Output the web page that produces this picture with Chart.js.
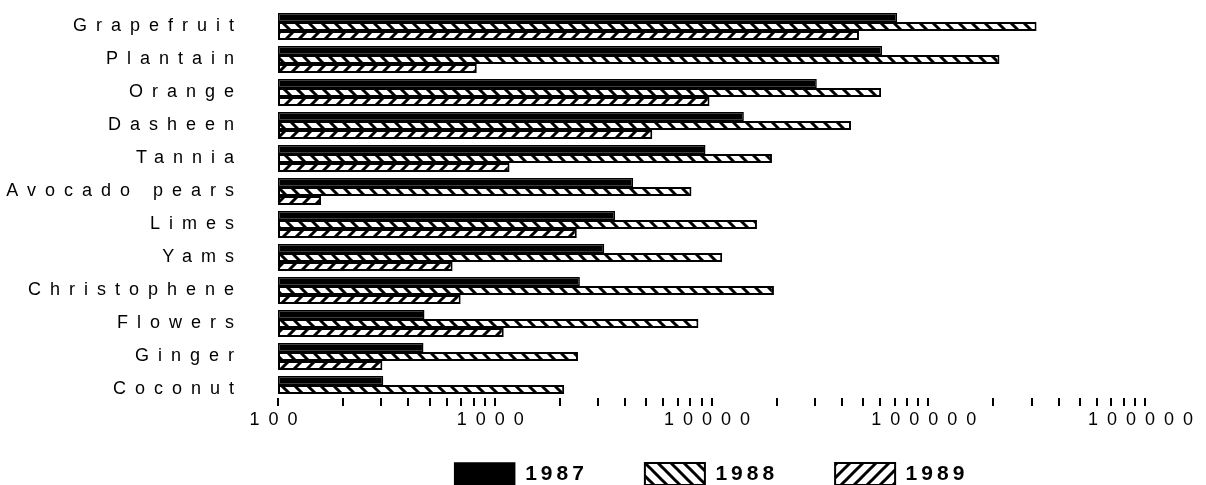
<!DOCTYPE html>
<html>
<head>
<meta charset="utf-8">
<script src="https://cdn.jsdelivr.net/npm/chart.js@4.4.1/dist/chart.umd.min.js"></script>
<style>
	html, body { margin: 0; padding: 0; background: #fff; }
	canvas { display: block; }
</style>
</head>
<body>
<canvas id="exportChart" width="1206" height="485"></canvas>
<script>
var categories = ['Grapefruit', 'Plantain', 'Orange', 'Dasheen', 'Tannia', 'Avocado pears', 'Limes', 'Yams', 'Christophene', 'Flowers', 'Ginger', 'Coconut'];
var values1987 = [71800, 61200, 30600, 14100, 9380, 4350, 3590, 3200, 2470, 474, 469, 306];
var values1988 = [316000, 213000, 60600, 44000, 19000, 8080, 16200, 11200, 19400, 8700, 2420, 2090];
var values1989 = [47900, 826, 9790, 5330, 1170, 158, 2390, 639, 696, 1100, 303, null];
var decadeValues = [100, 1000, 10000, 100000, 1000000];
var decadeLabels = ['100', '1000', '10000', '100000', '100000'];

// tick marks at 1..9 of every decade
var tickMarks = [];
for (var d = 0; d < decadeValues.length - 1; d++) {
	for (var m = 1; m < 10; m++) tickMarks.push(decadeValues[d] * m);
}
tickMarks.push(decadeValues[decadeValues.length - 1]);

// hatch fill, dir 'back' = \\\ , 'fwd' = ///
function hatch(dir) {
	var size = 13;
	var c = document.createElement('canvas');
	c.width = size;
	c.height = size;
	var g = c.getContext('2d');
	g.fillStyle = '#fff';
	g.fillRect(0, 0, size, size);
	g.strokeStyle = '#000';
	g.lineWidth = 3;
	g.beginPath();
	[-size, 0, size].forEach(function (k) {
		if (dir === 'back') {
			g.moveTo(k - 2, -2);
			g.lineTo(k + size + 2, size + 2);
		} else {
			g.moveTo(k + size + 2, -2);
			g.lineTo(k - 2, size + 2);
		}
	});
	g.stroke();
	return g.createPattern(c, 'repeat');
}

Chart.defaults.font.family = '"Liberation Sans", Arial, sans-serif';
Chart.defaults.color = '#000';

var spacing = {
	id: 'spacing',
	beforeLayout: function (chart) { chart.ctx.letterSpacing = '9px'; },
	beforeDraw: function (chart) { chart.ctx.letterSpacing = '9px'; },
};

var exportChart = new Chart(document.getElementById('exportChart'), {
	type: 'bar',
	data: {
		labels: categories,
		datasets: [
			{
				label: '1987',
				data: values1987,
				backgroundColor: '#000',
				borderColor: '#000',
				borderWidth: 1.5,
				borderSkipped: false,
			},
			{
				label: '1988',
				data: values1988,
				backgroundColor: hatch('back'),
				borderColor: '#000',
				borderWidth: 2,
				borderSkipped: false,
			},
			{
				label: '1989',
				data: values1989,
				backgroundColor: hatch('fwd'),
				borderColor: '#000',
				borderWidth: 2,
				borderSkipped: false,
			},
		],
	},
	options: {
		indexAxis: 'y',
		responsive: false,
		animation: false,
		categoryPercentage: 0.82,
		barPercentage: 1.0,
		layout: {
			padding: { left: 0, right: 61, top: 10, bottom: -10 },
		},
		scales: {
			x: {
				type: 'logarithmic',
				position: 'bottom',
				min: 100,
				max: 1000000,
				border: { display: false },
				grid: {
					drawOnChartArea: false,
					drawTicks: true,
					tickLength: -8,
					color: '#000',
					lineWidth: 2,
				},
				afterBuildTicks: function (scale) {
					scale.ticks = tickMarks.map(function (v) { return { value: v }; });
				},
				afterFit: function (scale) {
					scale.height = 0;
					scale.paddingLeft = 0;
					scale.paddingRight = 0;
				},
				ticks: {
					autoSkip: false,
					maxRotation: 0,
					padding: 11,
					font: { size: 18 },
					callback: function (value) {
						var i = decadeValues.indexOf(value);
						return i >= 0 ? decadeLabels[i] : '';
					},
				},
			},
			y: {
				offset: true,
				border: { display: false },
				grid: { display: false, drawTicks: false },
				afterFit: function (scale) {
					scale.width = 278;
					scale.paddingTop = 0;
					scale.paddingBottom = 0;
				},
				ticks: {
					padding: 35,
					font: { size: 18 },
				},
			},
		},
		plugins: {
			tooltip: { enabled: false },
			legend: {
				display: true,
				position: 'bottom',
				fullSize: false,
				labels: {
					boxWidth: 60,
					boxHeight: 22,
					padding: 57,
					font: { size: 21, weight: 'bold' },
				},
			},
		},
	},
	plugins: [spacing],
});

// x labels sit below a zero-height axis box, so do not clip them to it
exportChart.scales.x._computeLabelArea = function () { return undefined; };

// legend text is tighter than the axis text
['fit', 'draw'].forEach(function (name) {
	var orig = exportChart.legend[name];
	exportChart.legend[name] = function () {
		var ctx = this.ctx;
		var prev = ctx.letterSpacing;
		ctx.letterSpacing = '4px';
		var r = orig.apply(this, arguments);
		ctx.letterSpacing = prev;
		return r;
	};
});
exportChart.update();
</script>
</body>
</html>
